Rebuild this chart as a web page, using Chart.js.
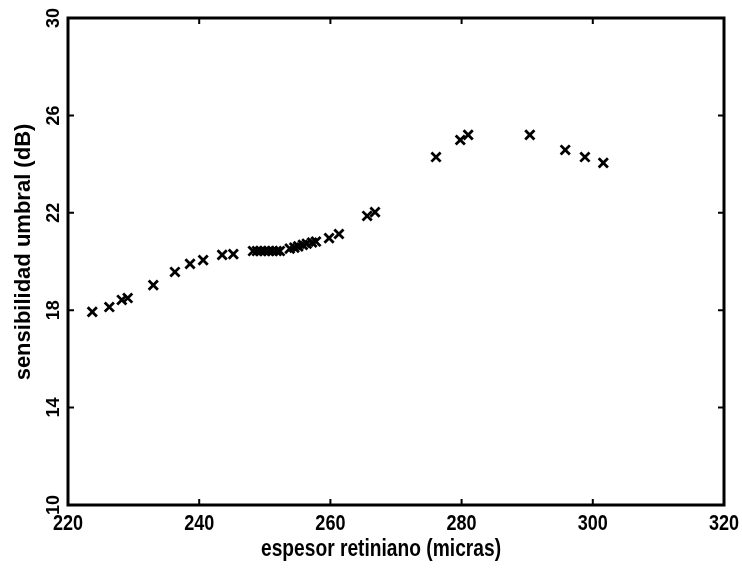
<!DOCTYPE html>
<html><head><meta charset="utf-8">
<script src="https://cdn.jsdelivr.net/npm/chart.js@4.4.0/dist/chart.umd.min.js"></script>
<style>html,body{margin:0;padding:0;background:#fff}#wrap{width:742px;height:569px}</style>
</head><body><div id="wrap"><canvas id="c" width="742" height="569"></canvas></div>
<script>
const thickness = [223.7, 226.3, 228.2, 229.1, 233.0, 236.3, 238.6, 240.6, 243.5, 245.2,
  248.2, 248.8, 249.4, 250.0, 250.6, 251.2, 251.8, 252.3,
  253.8, 254.5, 255.1, 255.8, 256.4, 257.2, 257.8,
  259.8, 261.3, 265.6, 266.8,
  276.1, 279.8, 281.0, 290.4, 295.8, 298.8, 301.6];
const sensitivity = [17.93, 18.13, 18.42, 18.5, 19.03, 19.57, 19.9, 20.06, 20.27, 20.3,
  20.43, 20.43, 20.43, 20.43, 20.43, 20.43, 20.43, 20.43,
  20.53, 20.57, 20.62, 20.68, 20.73, 20.78, 20.82,
  20.96, 21.13, 21.87, 22.03,
  24.29, 24.99, 25.2, 25.2, 24.58, 24.29, 24.05];
const xTicks = [220, 240, 260, 280, 300, 320];
const yTicks = [10, 14, 18, 22, 26, 30];
const xTitle = 'espesor retiniano (micras)';
const yTitle = 'sensibilidad umbral (dB)';

const FONT = '"Liberation Sans", Arial, sans-serif';

function condensedText(ctx, text, x, y, sx) {
  ctx.save();
  ctx.translate(x, y);
  ctx.scale(sx, 1);
  ctx.fillText(text, 0, 0);
  ctx.restore();
}

const framePlugin = {
  id: 'frame',
  afterDraw(chart) {
    const ctx = chart.ctx, a = chart.chartArea;
    const xs = chart.scales.x, ys = chart.scales.y;
    ctx.save();
    ctx.strokeStyle = '#000';
    ctx.lineWidth = 2;
    const L = 6;
    ctx.beginPath();
    xTicks.forEach(v => {
      const px = xs.getPixelForValue(v);
      ctx.moveTo(px, a.bottom); ctx.lineTo(px, a.bottom - L);
      ctx.moveTo(px, a.top); ctx.lineTo(px, a.top + L);
    });
    yTicks.forEach(v => {
      const py = ys.getPixelForValue(v);
      ctx.moveTo(a.left, py); ctx.lineTo(a.left + L, py);
      ctx.moveTo(a.right, py); ctx.lineTo(a.right - L, py);
    });
    ctx.stroke();
    ctx.lineWidth = 3;
    ctx.strokeRect(a.left, a.top, a.right - a.left, a.bottom - a.top);
    ctx.fillStyle = '#000';
    ctx.textAlign = 'center';
    ctx.textBaseline = 'middle';
    // y tick labels (rotated)
    ctx.font = 'bold 18px ' + FONT;
    yTicks.forEach(v => {
      const py = ys.getPixelForValue(v);
      ctx.save();
      ctx.translate(a.left - 14, py);
      ctx.rotate(-Math.PI / 2);
      ctx.fillText(String(v), 0, 0);
      ctx.restore();
    });
    // y title
    ctx.font = 'bold 22px ' + FONT;
    ctx.save();
    ctx.translate(24, 252);
    ctx.rotate(-Math.PI / 2);
    ctx.fillText(yTitle, 0, 0);
    ctx.restore();
    // x tick labels (condensed)
    ctx.font = 'bold 22px ' + FONT;
    xTicks.forEach(v => {
      condensedText(ctx, String(v), xs.getPixelForValue(v), a.bottom + 19, 0.82);
    });
    // x title (condensed)
    ctx.font = 'bold 24px ' + FONT;
    condensedText(ctx, xTitle, 381, 549, 0.8);
    ctx.restore();
  }
};

new Chart(document.getElementById('c'), {
  type: 'scatter',
  data: {
    datasets: [{
      data: thickness.map((x, i) => ({x, y: sensitivity[i]})),
      pointStyle: 'crossRot',
      pointRadius: 6.5,
      pointBorderWidth: 2.8,
      borderColor: '#000',
      backgroundColor: '#000'
    }]
  },
  options: {
    responsive: false,
    animation: false,
    layout: { padding: { top: 18, right: 18, left: 0, bottom: 0 } },
    plugins: { legend: { display: false }, tooltip: { enabled: false } },
    scales: {
      x: {
        type: 'linear', min: 220, max: 320,
        afterBuildTicks: s => { s.ticks = xTicks.map(v => ({value: v})); },
        grid: { display: false, drawTicks: false },
        border: { display: false },
        ticks: { display: false },
        afterFit: s => { s.height = 64; s.paddingLeft = 0; s.paddingRight = 0; }
      },
      y: {
        type: 'linear', min: 10, max: 30,
        afterBuildTicks: s => { s.ticks = yTicks.map(v => ({value: v})); },
        grid: { display: false, drawTicks: false },
        border: { display: false },
        ticks: { display: false },
        afterFit: s => { s.width = 68; s.paddingTop = 0; s.paddingBottom = 0; }
      }
    }
  },
  plugins: [framePlugin]
});
</script></body></html>
